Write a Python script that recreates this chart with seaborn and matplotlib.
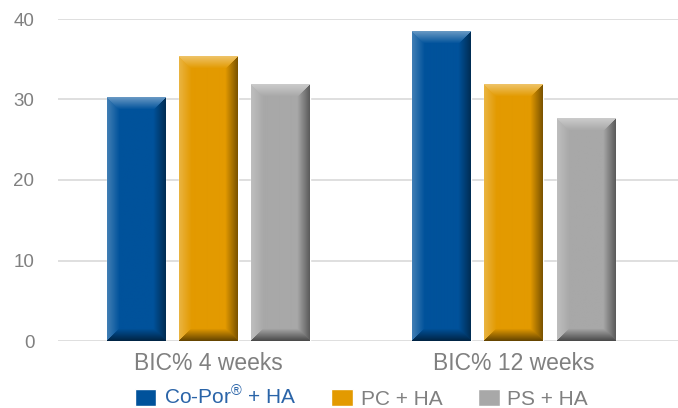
import numpy as np
import pandas as pd
import seaborn as sns
import matplotlib.pyplot as plt
from matplotlib.colors import to_rgb

# valores
grupos = ['BIC% 4 weeks', 'BIC% 12 weeks']
materiais = ['Co-Por$^{®}$ + HA', 'PC + HA', 'PS + HA']
bic_4_semanas = [30.2, 35.4, 31.9]
bic_12_semanas = [38.5, 31.9, 27.6]
cores = ['#00529b', '#e39a00', '#a8a8a8']
yticks = [0, 10, 20, 30, 40]

linhas = []
for m, v in zip(materiais, bic_4_semanas):
    linhas.append({'grupo': grupos[0], 'material': m, 'bic': v})
for m, v in zip(materiais, bic_12_semanas):
    linhas.append({'grupo': grupos[1], 'material': m, 'bic': v})
df = pd.DataFrame(linhas)

sns.set_style('white')
plt.rcParams['font.family'] = ['Liberation Sans', 'DejaVu Sans']
plt.rcParams['mathtext.fontset'] = 'custom'
plt.rcParams['mathtext.rm'] = 'Liberation Sans'
plt.rcParams['mathtext.it'] = 'Liberation Sans'

fig = plt.figure(figsize=(6.78, 4.08), dpi=100)
ax = fig.add_axes([58 / 678, 1 - 341 / 408, 1 - 58 / 678, (341 - 19) / 408])

sns.barplot(data=df, x='grupo', y='bic', hue='material', order=grupos,
            hue_order=materiais, palette=cores, width=0.71, gap=0.19,
            saturation=1, ax=ax, zorder=3)

ax.set_ylim(0, 40)
ax.set_xlim(-0.493, 1.539)
ax.set_yticks(yticks)
ax.yaxis.grid(True, color='#dcdcdc', linewidth=1.3, zorder=0)
ax.set_axisbelow(True)
for s in ax.spines.values():
    s.set_visible(False)
ax.set_xlabel('')
ax.set_ylabel('')
ax.tick_params(axis='y', length=0, pad=17, labelsize=13.5, labelcolor='#808080')
ax.tick_params(axis='x', length=0, pad=8, labelsize=16.5, labelcolor='#808080')

# efeito de bisel nas barras
fig.canvas.draw()
for p in list(ax.patches):
    x0, y0 = p.get_x(), p.get_y()
    w, h = p.get_width(), p.get_height()
    if h <= 0:
        continue
    (px0, py0), (px1, py1) = ax.transData.transform([(x0, y0), (x0 + w, y0 + h)])
    W = max(int(round(px1 - px0)), 2)
    H = max(int(round(py1 - py0)), 2)
    c = np.array(to_rgb(p.get_facecolor()))
    ii, jj = np.mgrid[0:H, 0:W]
    dist = np.stack([ii, H - 1 - ii, jj, W - 1 - jj])
    face = dist.argmin(axis=0)
    d = dist.min(axis=0)
    b = 12.0
    k = np.clip(1 - d / b, 0, 1)
    img = np.tile(c, (H, W, 1)).astype(float)
    fatores = {0: 0.40, 1: -0.55, 2: 0.25, 3: -0.45}
    for f, amt in fatores.items():
        mask = (face == f) & (d < b)
        a = (amt * k)[mask][:, None]
        if amt > 0:
            img[mask] = img[mask] + (1 - img[mask]) * a
        else:
            img[mask] = img[mask] * (1 + a)
    ax.imshow(img, extent=(x0, x0 + w, y0, y0 + h), aspect='auto',
              interpolation='bilinear', zorder=4)
ax.set_xlim(-0.493, 1.539)
ax.set_ylim(0, 40)

handles, labels = ax.get_legend_handles_labels()
ax.get_legend().remove()
leg = fig.legend(handles, labels, loc='center', bbox_to_anchor=(361 / 678, 1 - 397 / 408),
                 ncol=3, frameon=False, fontsize=15, handlelength=1.05, handleheight=0.9,
                 handletextpad=0.35, columnspacing=1.7, borderpad=0)
for t in leg.get_texts():
    t.set_color('#808080')
leg.get_texts()[0].set_color('#2a64a8')

plt.savefig('out.png', dpi=100)
